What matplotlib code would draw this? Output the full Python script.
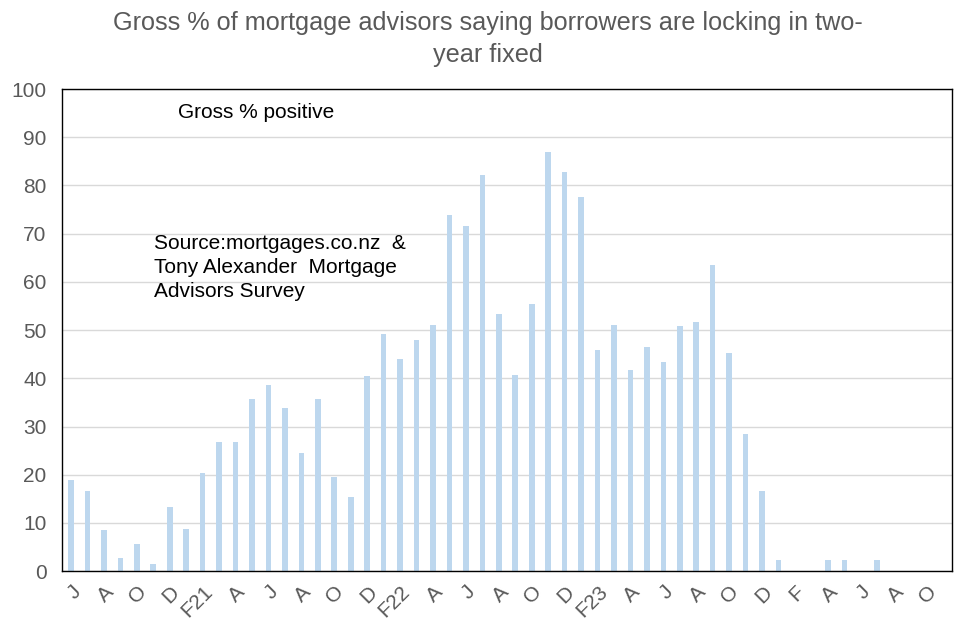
import matplotlib
matplotlib.use('Agg')
import matplotlib.pyplot as plt
import numpy as np

plt.rcParams['font.family'] = ['Liberation Sans', 'DejaVu Sans']

# month labels, Jun 2020 .. Nov 2024 (every second month labelled)
month_labels = ['J', '', 'A', '', 'O', '', 'D', '', 'F21', '', 'A', '', 'J', '', 'A', '',
                'O', '', 'D', '', 'F22', '', 'A', '', 'J', '', 'A', '', 'O', '', 'D', '',
                'F23', '', 'A', '', 'J', '', 'A', '', 'O', '', 'D', '', 'F', '', 'A', '',
                'J', '', 'A', '', 'O', '']
gross_positive = [18.9, 16.7, 8.6, 2.7, 5.7, 1.5, 13.2, 8.7, 20.4, 26.8, 26.8, 35.7, 38.6,
                  33.8, 24.5, 35.7, 19.5, 15.4, 40.4, 49.2, 44.0, 47.9, 51.1, 73.9, 71.5,
                  82.2, 53.3, 40.7, 55.4, 87.0, 82.7, 77.7, 45.9, 51.0, 41.7, 46.5, 43.4,
                  50.8, 51.7, 63.6, 45.2, 28.5, 16.7, 2.4, 0, 0, 2.4, 2.4, 0, 2.4, 0, 0, 0, 0]
y_ticks = [0, 10, 20, 30, 40, 50, 60, 70, 80, 90, 100]

fig = plt.figure(figsize=(9.76, 6.36), dpi=100)
ax = fig.add_axes([0.0635, 0.102, 0.912, 0.758])

x = np.arange(len(gross_positive))
ax.bar(x, gross_positive, width=0.34, color='#BDD7EE', zorder=2)

ax.set_xlim(-0.55, len(gross_positive) - 0.45)
ax.set_ylim(0, 100)
ax.set_yticks(y_ticks)
ax.yaxis.grid(True, color='#D9D9D9', linewidth=1, zorder=0)
ax.set_axisbelow(True)
for s in ax.spines.values():
    s.set_color('black')
    s.set_linewidth(1)

ax.set_xticks(x)
ax.set_xticklabels(month_labels, rotation=45, ha='right', rotation_mode='anchor',
                   fontsize=15, color='#595959')
ax.tick_params(axis='x', length=0, pad=8)
ax.tick_params(axis='y', length=0, pad=11, labelsize=15, labelcolor='#595959')

fig.text(0.4995, 0.982, 'Gross % of mortgage advisors saying borrowers are locking in two-\nyear fixed',
         ha='center', va='top', fontsize=18.2, color='#595959', linespacing=1.4)

ax.text(0.13, 0.951, 'Gross % positive', transform=ax.transAxes, fontsize=15,
        ha='left', va='center')
ax.text(0.103, 0.70, 'Source:mortgages.co.nz  &\nTony Alexander  Mortgage\nAdvisors Survey',
        transform=ax.transAxes, fontsize=15, ha='left', va='top', linespacing=1.35)

fig.savefig('out.png', dpi=100)
